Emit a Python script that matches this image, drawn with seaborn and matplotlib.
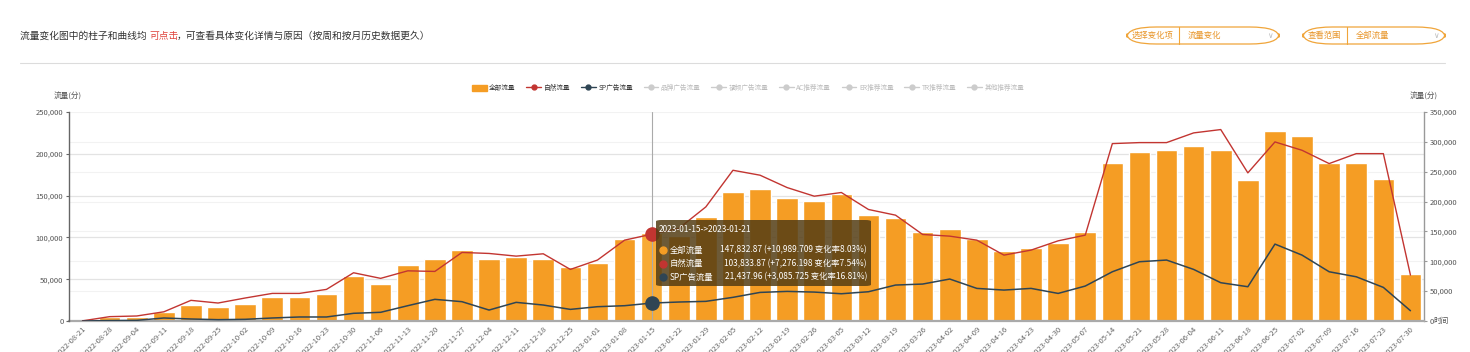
import numpy as np
import pandas as pd
import seaborn as sns
import matplotlib.pyplot as plt
from matplotlib.patches import FancyBboxPatch, Patch
from matplotlib.lines import Line2D
from matplotlib.ticker import MultipleLocator, FuncFormatter

weeks = pd.date_range('2022-08-21', '2023-07-30', freq='7D').strftime('%Y-%m-%d').tolist()

# 全部流量 (right axis, bars)
total = [300, 6100, 7200, 15600, 27300, 22900, 29000, 39600, 40100, 45700,
         75800, 61900, 94200, 103700, 118700, 104200, 106400, 104200, 90800, 96400,
         137100, 147832.87, 142000, 174400, 215700, 221200, 206200, 200600, 213400, 178300,
         173300, 149400, 153800, 137500, 117000, 121500, 131000, 148800, 264700, 283100,
         286500, 293100, 285900, 235700, 318200, 309300, 265300, 264700, 238500, 78000]
# 自然流量 (left axis)
natural = [200, 5200, 6000, 11000, 24700, 21500, 27500, 33000, 33000, 37800,
           57700, 51000, 60000, 59300, 82000, 80800, 77600, 80400, 61700, 72900,
           96700, 103833.87, 110700, 136500, 180300, 174400, 159600, 149300, 153700, 133400,
           126600, 103500, 101500, 96700, 78800, 84800, 95900, 102700, 212200, 213400,
           213400, 225000, 229000, 177200, 214200, 204200, 188300, 200200, 200200, 54900]
# SP广告流量 (left axis)
sp = [0, 500, 800, 3600, 2400, 1600, 2000, 3600, 4800, 4800,
      9200, 10400, 18300, 25900, 23100, 13100, 22300, 19100, 13900, 17100,
      18300, 21437.96, 22700, 23500, 28300, 34200, 35400, 34600, 32600, 35000,
      43000, 44200, 50200, 39000, 37000, 39000, 33000, 41800, 58900, 70900,
      72900, 61700, 45800, 41000, 92000, 78800, 58900, 52900, 40200, 12300]

other_series = ['品牌广告流量', '视频广告流量', 'AC推荐流量', 'ER推荐流量', 'TR推荐流量', '其他推荐流量']
hover = 21

BAR, RED, DARK = '#f59d24', '#c23531', '#2f4554'

sns.set_style('white')
plt.rcParams['font.family'] = ['Noto Sans CJK SC', 'DejaVu Sans']

df = pd.DataFrame({'week': weeks, 'idx': np.arange(len(weeks)),
                   'total': total, 'natural': natural, 'sp': sp})

W, H = 1470, 352
fig = plt.figure(figsize=(W / 100, H / 100), dpi=100)
ax = fig.add_axes([69 / W, 1 - 321 / H, (1424 - 69) / W, (321 - 112) / H])

pal = [BAR] * len(weeks)
pal[hover] = '#f8ab35'
sns.barplot(data=df, x='week', y='total', hue='week', palette=pal, legend=False,
            width=0.8, ax=ax, saturation=1)

ax2 = ax.twinx()  # note: twinx moves ax's ticks to the left, so style ax after this

ax.set_ylim(0, 350000)
ax.set_xlim(-0.5, len(weeks) - 0.5)
ax.yaxis.set_major_locator(MultipleLocator(50000))
ax.yaxis.set_minor_locator(MultipleLocator(70000))
ax.yaxis.set_major_formatter(FuncFormatter(lambda v, p: f'{int(v):,}'))
ax.yaxis.set_ticks_position('right')
ax.yaxis.set_label_position('right')
ax.set_axisbelow(True)
ax.grid(axis='y', which='major', color='#f2f2f2', lw=0.8)
ax.grid(axis='y', which='minor', color='#e3e3e3', lw=0.9)
ax.tick_params(axis='y', which='minor', length=0, labelright=False, labelleft=False)
ax.tick_params(axis='y', which='major', labelsize=5.5, labelcolor='#555', length=2.5,
               color='#999', pad=1.5, labelright=True, labelleft=False, right=True, left=False)
ax.tick_params(axis='x', labelsize=5.5, labelcolor='#666', length=2, color='#aaa', pad=1)
ax.set_xticks(range(len(weeks)))
ax.set_xticklabels(weeks, rotation=45, ha='right', rotation_mode='anchor')
ax.set_xlabel('')
ax.set_ylabel('')
ax.spines['top'].set_visible(False)
ax.spines['left'].set_visible(False)
ax.spines['right'].set_color('#999')
ax.spines['right'].set_linewidth(1)
ax.spines['bottom'].set_color('#aaa')
ax.spines['bottom'].set_linewidth(1.6)

ax.axvline(hover, color='#aaa', lw=0.8, zorder=3)

sns.lineplot(data=df, x='idx', y='natural', color=RED, lw=1, ax=ax2)
sns.lineplot(data=df, x='idx', y='sp', color=DARK, lw=1.1, ax=ax2)
ax2.scatter([hover], [natural[hover]], s=90, color=RED, zorder=5)
ax2.scatter([hover], [sp[hover]], s=90, color=DARK, zorder=5)
ax2.set_ylim(0, 250000)
ax2.set_xlim(-0.5, len(weeks) - 0.5)
ax2.yaxis.set_major_locator(MultipleLocator(50000))
ax2.yaxis.set_major_formatter(FuncFormatter(lambda v, p: f'{int(v):,}'))
ax2.yaxis.set_ticks_position('left')
ax2.yaxis.set_label_position('left')
ax2.tick_params(axis='y', labelsize=5.5, labelcolor='#555', length=2.5, color='#666', pad=1.5)
ax2.set_ylabel('')
ax2.set_xlabel('')
for s in ['top', 'right', 'bottom']:
    ax2.spines[s].set_visible(False)
ax2.spines['left'].set_color('#666')
ax2.spines['left'].set_linewidth(1)

# axis names
fig.text(68 / W, 1 - 97 / H, '流量(分)', fontsize=5.5, color='#555', ha='center', va='center')
fig.text(1424 / W, 1 - 97 / H, '流量(分)', fontsize=5.5, color='#555', ha='center', va='center')
fig.text(1433 / W, 1 - 321 / H, '时间', fontsize=5.5, color='#555', ha='left', va='center')

# header
fig.text(20 / W, 1 - 36 / H, '流量变化图中的柱子和曲线均 ', fontsize=7, color='#333',
         ha='left', va='center')
fig.text(149 / W, 1 - 36 / H, '可点击', fontsize=7, color='#e0453f', ha='left', va='center')
fig.text(177 / W, 1 - 36 / H, '，可查看具体变化详情与原因（按周和按月历史数据更久）', fontsize=7,
         color='#333', ha='left', va='center')
fig.add_artist(Line2D([20 / W, 1445 / W], [1 - 63 / H, 1 - 63 / H], color='#dcdcdc', lw=0.8))

# dropdowns
def dropdown(x0, x1, xdiv, label, value):
    y0, y1 = 1 - 44 / H, 1 - 27 / H
    fig.add_artist(FancyBboxPatch((x0 / W, y0), (x1 - x0) / W, y1 - y0,
                                  boxstyle='round,pad=0,rounding_size=0.02',
                                  mutation_aspect=W / H * 0.35,
                                  fc='white', ec='#f0a53a', lw=0.9, transform=fig.transFigure))
    fig.add_artist(Line2D([xdiv / W, xdiv / W], [y0, y1], color='#f0a53a', lw=0.8))
    fig.text((x0 + 5) / W, (y0 + y1) / 2, label, fontsize=6, color='#e8962b', va='center')
    fig.text((xdiv + 9) / W, (y0 + y1) / 2, value, fontsize=6, color='#e8962b', va='center')
    fig.text((x1 - 9) / W, (y0 + y1) / 2, '∨', fontsize=5.5, color='#bbb', va='center',
             ha='center', family=['DejaVu Sans'])

dropdown(1127, 1279, 1179, '选择变化项', '流量变化')
dropdown(1303, 1445, 1347, '查看范围', '全部流量')

# legend
handles = [Patch(color=BAR),
           Line2D([], [], color=RED, marker='o', ms=3.5, lw=1),
           Line2D([], [], color=DARK, marker='o', ms=3.5, lw=1)]
handles += [Line2D([], [], color='#ccc', marker='o', ms=3.5, lw=1) for _ in other_series]
labels = ['全部流量', '自然流量', 'SP广告流量'] + other_series
leg = fig.legend(handles, labels, loc='center', bbox_to_anchor=(748 / W, 1 - 88 / H), ncol=9,
                 frameon=False, fontsize=4.8, handlelength=2.2, handleheight=1.0,
                 columnspacing=1.6, handletextpad=0.4)
for t in leg.get_texts()[3:]:
    t.set_color('#bbb')
for t in leg.get_texts()[:3]:
    t.set_color('#333')

# tooltip
fig.add_artist(FancyBboxPatch((656 / W, 1 - 286 / H), (871 - 656) / W, (286 - 220) / H,
                              boxstyle='round,pad=0,rounding_size=0.004',
                              fc=(0.33, 0.24, 0.08, 0.85), ec='none', transform=fig.transFigure,
                              zorder=10))
fig.text(659 / W, 1 - 229 / H, f'{weeks[hover]}->2023-01-21', fontsize=6, color='white',
         va='center', zorder=11)
rows = [('全部流量', BAR, '147,832.87 (+10,989.709 变化率8.03%)'),
        ('自然流量', RED, '103,833.87 (+7,276.198 变化率7.54%)'),
        ('SP广告流量', DARK, '21,437.96 (+3,085.725 变化率16.81%)')]
for k, (name, col, val) in enumerate(rows):
    yy = 1 - (250 + 13.5 * k) / H
    fig.add_artist(Line2D([663 / W], [yy], marker='o', ms=5, color=col, lw=0, zorder=11))
    fig.text(670 / W, yy, name, fontsize=6, color='white', va='center', zorder=11)
    fig.text(867 / W, yy, val, fontsize=6, color='white', va='center', ha='right', zorder=11)

fig.savefig('out.png', dpi=100)
